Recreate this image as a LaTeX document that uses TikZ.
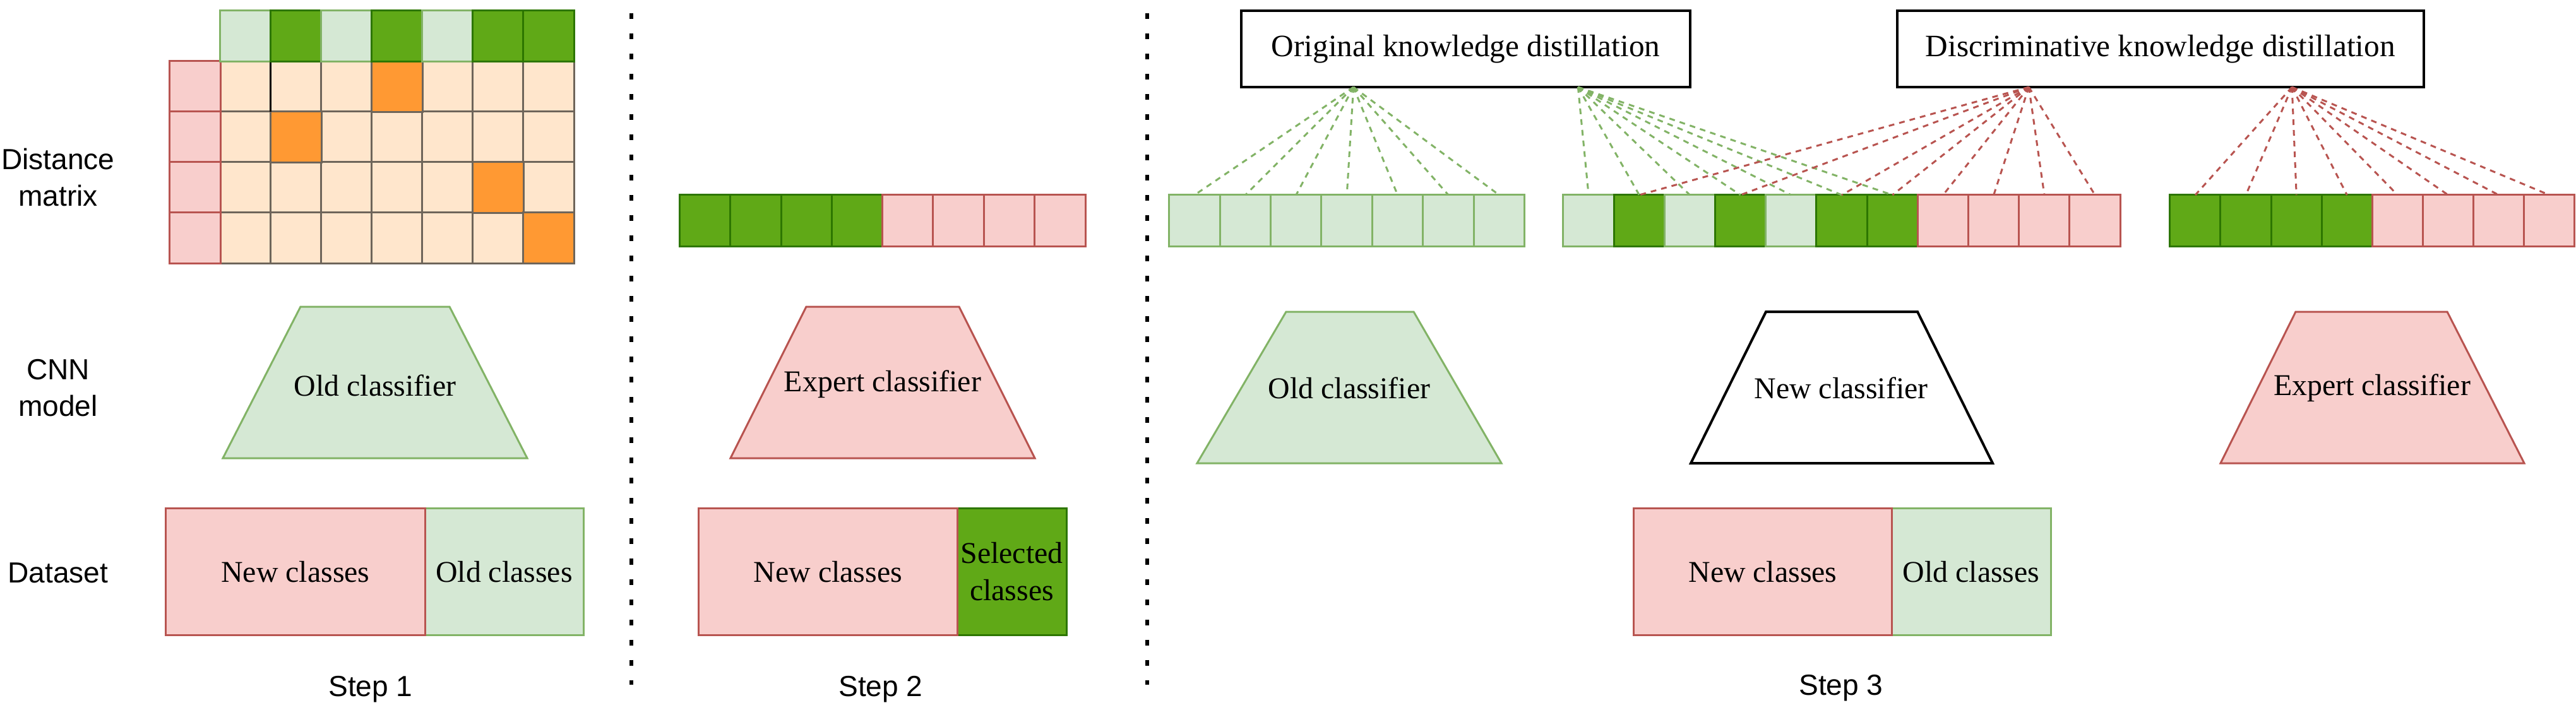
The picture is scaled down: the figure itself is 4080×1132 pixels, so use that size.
\documentclass[tikz,border=0pt]{standalone}
\usepackage{fontspec}
\setmainfont{Liberation Serif}
\setsansfont{Liberation Sans}
\newfontfamily\tnrfont{Liberation Serif}
\newfontfamily\arialfont{Liberation Sans}
\usetikzlibrary{calc}
\definecolor{lgreen}{HTML}{D5E8D4}
\definecolor{lgreenD}{HTML}{82B366}
\definecolor{dgreen}{HTML}{60A917}
\definecolor{dgreenD}{HTML}{2D7600}
\definecolor{lred}{HTML}{F8CECC}
\definecolor{lredD}{HTML}{B85450}
\definecolor{peach}{HTML}{FFE6CC}
\definecolor{orng}{HTML}{FF9933}
\definecolor{gridc}{HTML}{6E655A}
\tikzset{
  cell/.style={minimum width=0.804cm, minimum height=0.81cm, inner sep=0pt, outer sep=0pt, line width=0.03cm},
  mcell/.style={minimum width=0.8cm, minimum height=0.8cm, inner sep=0pt, outer sep=0pt, line width=0.03cm},
  lgs/.style={fill=lgreen, draw=lgreenD},
  dgs/.style={fill=dgreen, draw=dgreenD},
  lrs/.style={fill=lred, draw=lredD},
  pcs/.style={fill=peach, draw=gridc},
  ors/.style={fill=orng, draw=gridc},
  serif/.style={font=\tnrfont\fontsize{13.6pt}{16.5pt}\selectfont, inner sep=0pt, align=center},
  lab/.style={font=\arialfont\fontsize{13.1pt}{16.5pt}\selectfont, inner sep=0pt, align=center},
  kdbox/.style={draw=black, fill=white, line width=0.04cm, inner sep=0pt, outer sep=0pt, minimum height=1.21cm, font=\tnrfont\fontsize{14pt}{16.5pt}\selectfont},
  dsbox/.style={minimum height=2.0cm, inner sep=0pt, outer sep=0pt, line width=0.03cm, font=\tnrfont\fontsize{13.6pt}{16.8pt}\selectfont, align=center},
  trap/.style={line width=0.03cm},
  gdash/.style={draw=lgreenD, line width=0.03cm, dash pattern=on 0.09cm off 0.08cm},
  rdash/.style={draw=lredD, line width=0.03cm, dash pattern=on 0.09cm off 0.08cm},
  sepline/.style={draw=black, line width=0.065cm, dash pattern=on 0.09cm off 0.23cm},
}
\begin{document}
\begin{tikzpicture}[x=0.01cm, y=-0.01cm]
\useasboundingbox (0,0) rectangle (4080,1132);

% ---------- row labels ----------
\node[lab] (lDM) at (92,281) {Distance\\matrix};
\node[lab] (lCNN) at (92,615) {CNN\\model};
\node[lab] (lDS) at (92,908) {Dataset};

% ---------- separators ----------
\coordinate (s1t) at (1000,21);
\coordinate (s1b) at (1000,1085);
\coordinate (s2t) at (1817,21);
\coordinate (s2b) at (1817,1085);
\draw[sepline] (s1t) -- (s1b);
\draw[sepline] (s2t) -- (s2b);

% ---------- Step 1: distance matrix ----------
\foreach \r in {1,...,4}
  \foreach \c in {1,...,7}
    \node[mcell, pcs] (mx\r\c) at ({309+80*\c},{57+80*\r}) {};
\node[mcell, ors] (mo14) at ({309+80*4},{57+80*1}) {};
\node[mcell, ors] (mo22) at ({309+80*2},{57+80*2}) {};
\node[mcell, ors] (mo36) at ({309+80*6},{57+80*3}) {};
\node[mcell, ors] (mo47) at ({309+80*7},{57+80*4}) {};
\draw[black, line width=0.03cm] (mx12.south west) -- (mx12.north west) -- (mx12.north east);
\foreach \r in {1,...,4}
  \node[mcell, lrs] (mp\r) at (309,{57+80*\r}) {};
\foreach \c/\s in {1/lgs,2/dgs,3/lgs,4/dgs,5/lgs,6/dgs,7/dgs}
  \node[mcell, \s] (mt\c) at ({309+80*\c},57) {};

% ---------- Step 1: classifier ----------
\draw[trap, fill=lgreen, draw=lgreenD] (353,726) -- (476,486) -- (712,486) -- (835,726) -- cycle;
\node[serif] (oc1) at (594,611) {Old classifier};

% ---------- Step 1: dataset ----------
\node[dsbox, lgs, minimum width=2.51cm] (d1o) at (798.5,906) {Old classes};
\node[dsbox, lrs, minimum width=4.10cm] (d1n) at (468,906) {New classes};
\node[lab] (st1) at (587,1092) {Step 1};

% ---------- Step 2 ----------
\foreach \i/\s in {1/dgs,2/dgs,3/dgs,4/dgs,5/lrs,6/lrs,7/lrs,8/lrs}
  \node[cell, \s] (e\i) at ({1116.7+80.3*(\i-1)},349.5) {};
\draw[trap, fill=lred, draw=lredD] (1157,726) -- (1277,486) -- (1519,486) -- (1639,726) -- cycle;
\node[serif] (ec2) at (1398,609) {Expert classifier};
\node[dsbox, dgs, minimum width=1.73cm] (d2s) at (1602.5,906) {Selected\\classes};
\node[dsbox, lrs, minimum width=4.09cm] (d2n) at (1311.5,906) {New classes};
\node[lab] (st2) at (1395,1092) {Step 2};

% ---------- Step 3: distillation boxes ----------
\node[kdbox, minimum width=7.11cm] (okd) at (2321.5,77.5) {Original knowledge distillation};
\node[kdbox, minimum width=8.33cm] (dkd) at (3421.75,77.5) {Discriminative knowledge distillation};
\coordinate (okdL) at ($(okd.south west)!0.25!(okd.south east)$);
\coordinate (okdR) at ($(okd.south west)!0.75!(okd.south east)$);
\coordinate (dkdL) at ($(dkd.south west)!0.25!(dkd.south east)$);
\coordinate (dkdR) at ($(dkd.south west)!0.75!(dkd.south east)$);

% ---------- Step 3: output bars ----------
\foreach \i in {1,...,7}
  \node[cell, lgs] (o\i) at ({1892+80.4*(\i-1)},349.5) {};
\foreach \i/\s in {1/lgs,2/dgs,3/lgs,4/dgs,5/lgs,6/dgs,7/dgs,8/lrs,9/lrs,10/lrs,11/lrs}
  \node[cell, \s] (m\i) at ({2516.1+80.2*(\i-1)},349.5) {};
\foreach \i/\s in {1/dgs,2/dgs,3/dgs,4/dgs,5/lrs,6/lrs,7/lrs,8/lrs}
  \node[cell, \s] (r\i) at ({3477+80.1*(\i-1)},349.5) {};

% ---------- Step 3: connectors ----------
\foreach \i in {1,...,7}
  \draw[gdash] (okdL) -- (o\i.north);
\foreach \i in {1,...,7}
  \draw[gdash] (okdR) -- (m\i.north);
\foreach \i in {2,4,6,7,8,9,10,11}
  \draw[rdash] (dkdL) -- (m\i.north);
\foreach \i in {1,...,8}
  \draw[rdash] (dkdR) -- (r\i.north);

% ---------- Step 3: classifiers ----------
\draw[trap, fill=lgreen, draw=lgreenD] (1896,734) -- (2037,494) -- (2239,494) -- (2378,734) -- cycle;
\node[serif] (oc3) at (2137,615) {Old classifier};
\draw[trap, fill=white, draw=black, line width=0.04cm] (2678,734) -- (2797,494) -- (3037,494) -- (3156,734) -- cycle;
\node[serif] (nc3) at (2916,615) {New classifier};
\draw[trap, fill=lred, draw=lredD] (3517,734) -- (3636,494) -- (3876,494) -- (3998,734) -- cycle;
\node[serif] (ec3) at (3757,615) {Expert classifier};

% ---------- Step 3: dataset ----------
\node[dsbox, lgs, minimum width=2.52cm] (d3o) at (3122,906) {Old classes};
\node[dsbox, lrs, minimum width=4.08cm] (d3n) at (2792,906) {New classes};
\node[lab] (st3) at (2916,1090) {Step 3};
\end{tikzpicture}
\end{document}
